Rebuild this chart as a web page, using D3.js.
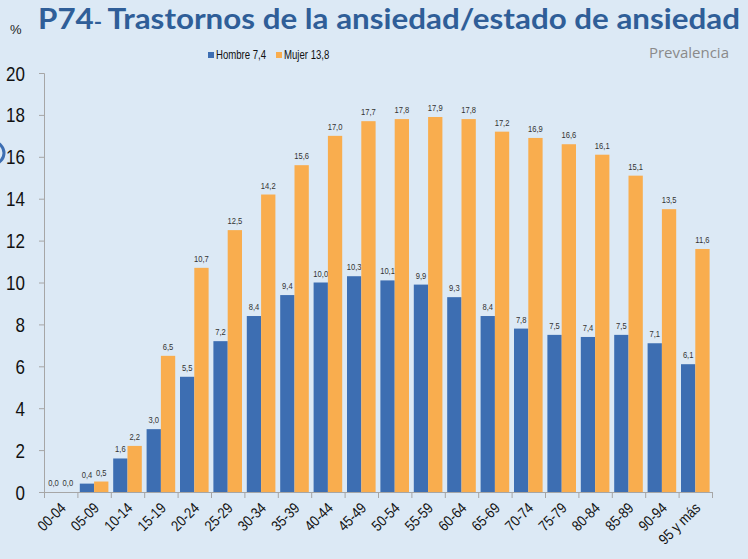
<!DOCTYPE html>
<html><head><meta charset="utf-8">
<script src="https://cdn.jsdelivr.net/npm/d3@7/dist/d3.min.js"></script>
<style>
body{margin:0;background:#dce9f5;}
svg{display:block;}
.narrow{font-family:"Liberation Sans Narrow","Arial Narrow","Liberation Sans",Arial,sans-serif;}
</style></head><body>
<svg id="chart" width="748" height="559"></svg>
<script>
const categories = ["00-04","05-09","10-14","15-19","20-24","25-29","30-34","35-39","40-44","45-49","50-54","55-59","60-64","65-69","70-74","75-79","80-84","85-89","90-94","95 y más"];
const hombre = [0.0,0.4,1.6,3.0,5.5,7.2,8.4,9.4,10.0,10.3,10.1,9.9,9.3,8.4,7.8,7.5,7.4,7.5,7.1,6.1];
const mujer  = [0.0,0.5,2.2,6.5,10.7,12.5,14.2,15.6,17.0,17.7,17.8,17.9,17.8,17.2,16.9,16.6,16.1,15.1,13.5,11.6];
const seriesNames = ["Hombre 7,4","Mujer 13,8"];
const yTicks = [0,2,4,6,8,10,12,14,16,18,20];
const colors = ["#3d6eb2","#f9ad4e"];
const SX = 0.8; // horizontal condensation to mimic a narrow font

const svg = d3.select("#chart");
svg.append("rect").attr("width",748).attr("height",559).attr("fill","#dce9f5");

const x = d3.scaleBand().domain(categories).range([44,712]).padding(0);
const sub = d3.scaleBand().domain([0,1]).range([2.4, x.bandwidth()-2.4]).padding(0);
const y = d3.scaleLinear().domain([0,20]).range([492,73]);

// decorative circle at left edge
svg.append("circle").attr("cx",-7).attr("cy",153).attr("r",11).attr("fill","none").attr("stroke","#3d6eb2").attr("stroke-width",3);

// bars
const data = categories.map((c,i)=>({c, v:[hombre[i],mujer[i]]}));
const g = svg.append("g");
data.forEach(d=>{
  d.v.forEach((v,k)=>{
    g.append("rect").attr("x",x(d.c)+sub(k)).attr("width",sub.bandwidth())
      .attr("y",y(v)).attr("height",y(0)-y(v)).attr("fill",colors[k]);
    g.append("text").attr("class","narrow")
      .attr("transform",`translate(${x(d.c)+sub(k)+sub.bandwidth()/2},${y(v)-6}) scale(${SX},1)`)
      .attr("text-anchor","middle").attr("font-size",9.5).attr("fill","#333")
      .text(v.toFixed(1).replace(".",","));
  });
});

// y axis
const yAxis = d3.axisLeft(y).tickValues(yTicks).tickSize(5).tickFormat(d=>d);
const ya = svg.append("g").attr("transform","translate(44,0)").call(yAxis);
ya.select(".domain").attr("stroke","#a6a6a6").attr("d","M-5,73.5H0.5V492.5");
ya.selectAll(".tick line").attr("stroke","#a6a6a6");
ya.selectAll(".tick text").attr("class","narrow").attr("font-size",20).attr("fill","#111")
  .attr("x",null).attr("dy",null).attr("text-anchor","end")
  .attr("transform",`translate(-19,7) scale(${SX+0.05},1)`);

// x axis
const xAxis = d3.axisBottom(x).tickSize(0).tickFormat("");
const xa = svg.append("g").attr("transform","translate(0,492)").call(xAxis);
xa.select(".domain").attr("stroke","#a6a6a6").attr("d","M44,0.5H712.5");
const bounds = categories.map(c=>x(c)).concat([x.range()[1]]);
xa.selectAll(".bt").data(bounds).enter().append("line").attr("class","bt")
  .attr("x1",d=>d+0.5).attr("x2",d=>d+0.5).attr("y1",0).attr("y2",6).attr("stroke","#a6a6a6");
xa.selectAll(".xl").data(categories).enter().append("text").attr("class","narrow xl")
  .attr("transform",d=>`translate(${x(d)+x.bandwidth()/2+6},${17}) rotate(-45) scale(${SX+0.05},1)`)
  .attr("text-anchor","end").attr("font-size",15).attr("fill","#111").text(d=>d);

// legend
const leg = svg.append("g");
const legX = [208, 276];
seriesNames.forEach((n,k)=>{
  leg.append("rect").attr("x",legX[k]).attr("y",52).attr("width",6).attr("height",6).attr("fill",colors[k]);
  leg.append("text").attr("class","narrow")
    .attr("transform",`translate(${legX[k]+8},59) scale(${SX},1)`)
    .attr("font-size",12).attr("fill","#111").text(n);
});

// Prevalencia
svg.append("text").attr("x",729).attr("y",58).attr("text-anchor","end")
  .attr("font-family","'Open Sans',sans-serif").attr("font-size",15).attr("fill","#8a8a8a").text("Prevalencia");

// title
svg.append("text").attr("x",10).attr("y",34).attr("font-family","'Liberation Sans',Arial,sans-serif").attr("font-size",13).attr("fill","#222").text("%");
const t = svg.append("text").attr("x",38).attr("y",29).attr("font-family","Lato,'Open Sans',sans-serif")
  .attr("font-weight","bold").attr("font-size",28).attr("fill","#2f5e98");
t.append("tspan").text("P74");
t.append("tspan").attr("font-size",20).text("- ");
t.append("tspan").text("Trastornos de la ansiedad/estado de ansiedad");
t.attr("textLength",702).attr("lengthAdjust","spacingAndGlyphs");
</script></body></html>
